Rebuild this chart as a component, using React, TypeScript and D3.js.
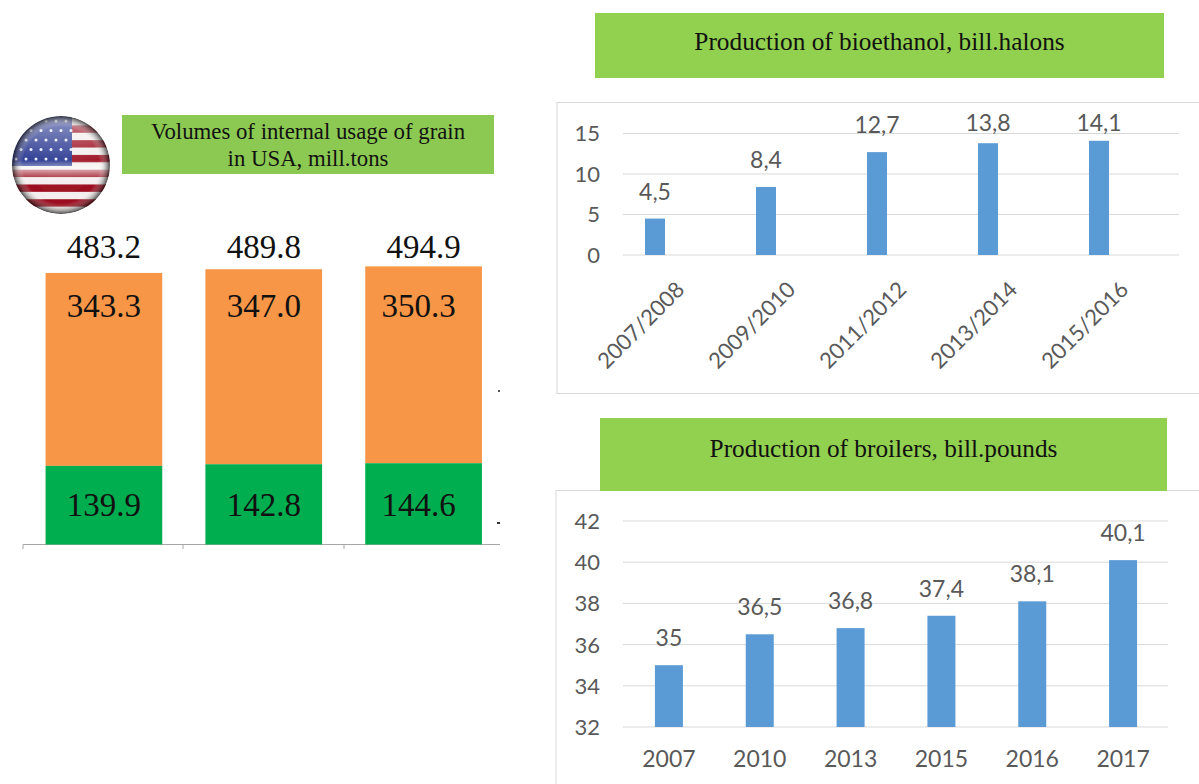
import React from "react";
import * as d3 from "d3";

const grainYears = ["a", "b", "c"];
const grainGreen = [139.9, 142.8, 144.6];
const grainOrange = [343.3, 347.0, 350.3];
const grainTotal = ["483.2", "489.8", "494.9"];

const ethanolCats = ["2007/2008", "2009/2010", "2011/2012", "2013/2014", "2015/2016"];
const ethanolVals = [4.5, 8.4, 12.7, 13.8, 14.1];
const ethanolTicks = [0, 5, 10, 15];

const broilerCats = ["2007", "2010", "2013", "2015", "2016", "2017"];
const broilerVals = [35, 36.5, 36.8, 37.4, 38.1, 40.1];
const broilerTicks = [32, 34, 36, 38, 40, 42];

const flagStripes = d3.range(13);
const flagStars = d3.range(30);

const comma = (v: number) => String(v).replace(".", ",");
const SERIF = "'Liberation Serif', serif";
const SANS = "Lato, sans-serif";
const GREY = "#595959";

function Header({ x, y, w, h, lines, size, fill = "#92D050", lineH = 26, lift = 0 }: any) {
  const cy = y + h / 2 - ((lines.length - 1) * lineH) / 2 - lift;
  return (
    <g>
      <rect x={x} y={y} width={w} height={h} fill={fill} />
      {lines.map((t: string, i: number) => (
        <text key={t} x={x + w / 2} y={cy + i * lineH} dy="0.34em" textAnchor="middle"
          fontFamily={SERIF} fontSize={size} fill="#111">{t}</text>
      ))}
    </g>
  );
}

function Flag() {
  const cx = 61, cy = 165, r = 49;
  const stripeY = d3.scaleBand<number>().domain(flagStripes).range([cy - r + 2, cy + r]);
  return (
    <g>
      <defs>
        <clipPath id="flagClip"><circle cx={cx} cy={cy} r={r} /></clipPath>
        <radialGradient id="gloss" cx="50%" cy="50%" r="50%">
          <stop offset="0%" stopColor="#fff" stopOpacity="0.05" />
          <stop offset="78%" stopColor="#fff" stopOpacity="0" />
          <stop offset="100%" stopColor="#000" stopOpacity="0.7" />
        </radialGradient>
        <linearGradient id="shine" x1="0" y1="0" x2="0" y2="1">
          <stop offset="0%" stopColor="#fff" stopOpacity="0.5" />
          <stop offset="45%" stopColor="#fff" stopOpacity="0.05" />
          <stop offset="55%" stopColor="#fff" stopOpacity="0.6" />
          <stop offset="66%" stopColor="#fff" stopOpacity="0" />
          <stop offset="100%" stopColor="#fff" stopOpacity="0" />
        </linearGradient>
        <filter id="soft"><feGaussianBlur stdDeviation="0.7" /></filter>
      </defs>
      <g clipPath="url(#flagClip)" filter="url(#soft)">
        <rect x={cx - r} y={cy - r} width={2 * r} height={2 * r} fill="#f4eeee" />
        {flagStripes.filter(i => i % 2 === 1).map(i => (
          <rect key={i} x={cx - r} y={stripeY(i)} width={2 * r} height={stripeY.bandwidth()} fill="#9c0f20" />
        ))}
        <rect x={cx - r} y={cy - r} width={r + 11} height={r + 1} fill="#26358f" />
        {flagStars.map(i => (
          <circle key={i} cx={cx - r + 4 + (i % 6) * 10 + (Math.floor(i / 6) % 2) * 5}
            cy={cy - r + 5 + Math.floor(i / 6) * 9.5} r={1.5} fill="#e8ecff" />
        ))}
        <rect x={cx - r} y={cy - r} width={2 * r} height={2 * r} fill="url(#shine)" />
        <circle cx={cx} cy={cy} r={r} fill="url(#gloss)" />
      </g>
    </g>
  );
}

function GrainChart() {
  const x = d3.scaleBand<string>().domain(grainYears).range([24, 503.5]).paddingInner(0.27).paddingOuter(0.135);
  const y = d3.scaleLinear().domain([0, 500]).range([544.5, 263.5]);
  return (
    <g fontFamily={SERIF} fontSize={33} fill="#111" textAnchor="middle">
      <line x1={23} x2={500} y1={544.5} y2={544.5} stroke="#a6a6a6" />
      {[23, 183, 344].map(t => <line key={t} x1={t} x2={t} y1={544.5} y2={549} stroke="#a6a6a6" />)}
      {grainYears.map((c, i) => {
        const bx = x(c)!, w = x.bandwidth(), cx = bx + w / 2;
        const g = grainGreen[i], o = grainOrange[i];
        return (
          <g key={c}>
            <rect x={bx} y={y(g + o)} width={w} height={y(g) - y(g + o)} fill="#F79646" />
            <rect x={bx} y={y(g)} width={w} height={y(0) - y(g)} fill="#00AD4F" />
            <text x={cx} y={258}>{grainTotal[i]}</text>
            <text x={cx - (i === 2 ? 5 : 0)} y={317}>{o.toFixed(1)}</text>
            <text x={cx - (i === 2 ? 5 : 0)} y={516}>{g.toFixed(1)}</text>
          </g>
        );
      })}
      <rect x={497} y={522} width={3} height={2} fill="#333" />
      <rect x={498} y={390} width={2} height={2} fill="#555" />
    </g>
  );
}

function EthanolChart() {
  const x = d3.scaleBand<string>().domain(ethanolCats).range([599.5, 1154.5]);
  const y = d3.scaleLinear().domain([0, 15]).range([255, 133.5]);
  const bw = 20;
  return (
    <g fontFamily={SANS} fill={GREY}>
      <rect x={557} y={102.5} width={660} height={291} fill="#fff" stroke="#d9d9d9" />
      {ethanolTicks.map(t => (
        <g key={t}>
          <line x1={623} x2={1179} y1={y(t)} y2={y(t)} stroke="#d9d9d9" />
          <text x={600} y={y(t)} dy="0.36em" textAnchor="end" fontSize={22}>{t}</text>
        </g>
      ))}
      {ethanolCats.map((c, i) => {
        const cx = x(c)! + x.bandwidth() / 2;
        const top = y(ethanolVals[i]);
        return (
          <g key={c}>
            <rect x={cx - bw / 2} y={top} width={bw} height={y(0) - top} fill="#5B9BD5" />
            <text x={cx} y={Math.max(top - 27, 123) + 8} textAnchor="middle" fontSize={23}>{comma(ethanolVals[i])}</text>
            <text transform={`translate(${cx + 20},${280}) rotate(-45)`} textAnchor="end" dy="0.7em" fontSize={22}>{c}</text>
          </g>
        );
      })}
    </g>
  );
}

function BroilerChart() {
  const x = d3.scaleBand<string>().domain(broilerCats).range([623.5, 1168.5]);
  const y = d3.scaleLinear().domain([32, 42]).range([727, 521]);
  const bw = 28;
  return (
    <g fontFamily={SANS} fill={GREY}>
      <rect x={556} y={490.5} width={660} height={310} fill="#fff" stroke="#d9d9d9" />
      {broilerTicks.map(t => (
        <g key={t}>
          <line x1={623} x2={1168} y1={y(t)} y2={y(t)} stroke="#d9d9d9" />
          <text x={600} y={y(t)} dy="0.36em" textAnchor="end" fontSize={22}>{t}</text>
        </g>
      ))}
      {broilerCats.map((c, i) => {
        const cx = x(c)! + x.bandwidth() / 2;
        const top = y(broilerVals[i]);
        return (
          <g key={c}>
            <rect x={cx - bw / 2} y={top} width={bw} height={y(32) - top} fill="#5B9BD5" />
            <text x={cx} y={top - 19} textAnchor="middle" fontSize={23}>{comma(broilerVals[i])}</text>
            <text x={cx} y={767} textAnchor="middle" fontSize={23}>{c}</text>
          </g>
        );
      })}
    </g>
  );
}

export default function App() {
  return (
    <svg width={1199} height={784} viewBox="0 0 1199 784"
      style={{ position: "fixed", left: 0, top: 0, display: "block", background: "#fff" }}>
      <GrainChart />
      <Flag />
      <Header x={122} y={115} w={372} h={59} size={22.8} fill="#8CC952" lineH={27}
        lines={["Volumes of internal usage of grain", "in USA, mill.tons"]} />
      <EthanolChart />
      <BroilerChart />
      <Header x={595} y={13} w={569} h={65} size={25.3} lift={4} lines={["Production of bioethanol, bill.halons"]} />
      <Header x={600} y={418} w={567} h={73} size={25.3} lift={6} lines={["Production of broilers, bill.pounds"]} />
    </svg>
  );
}
